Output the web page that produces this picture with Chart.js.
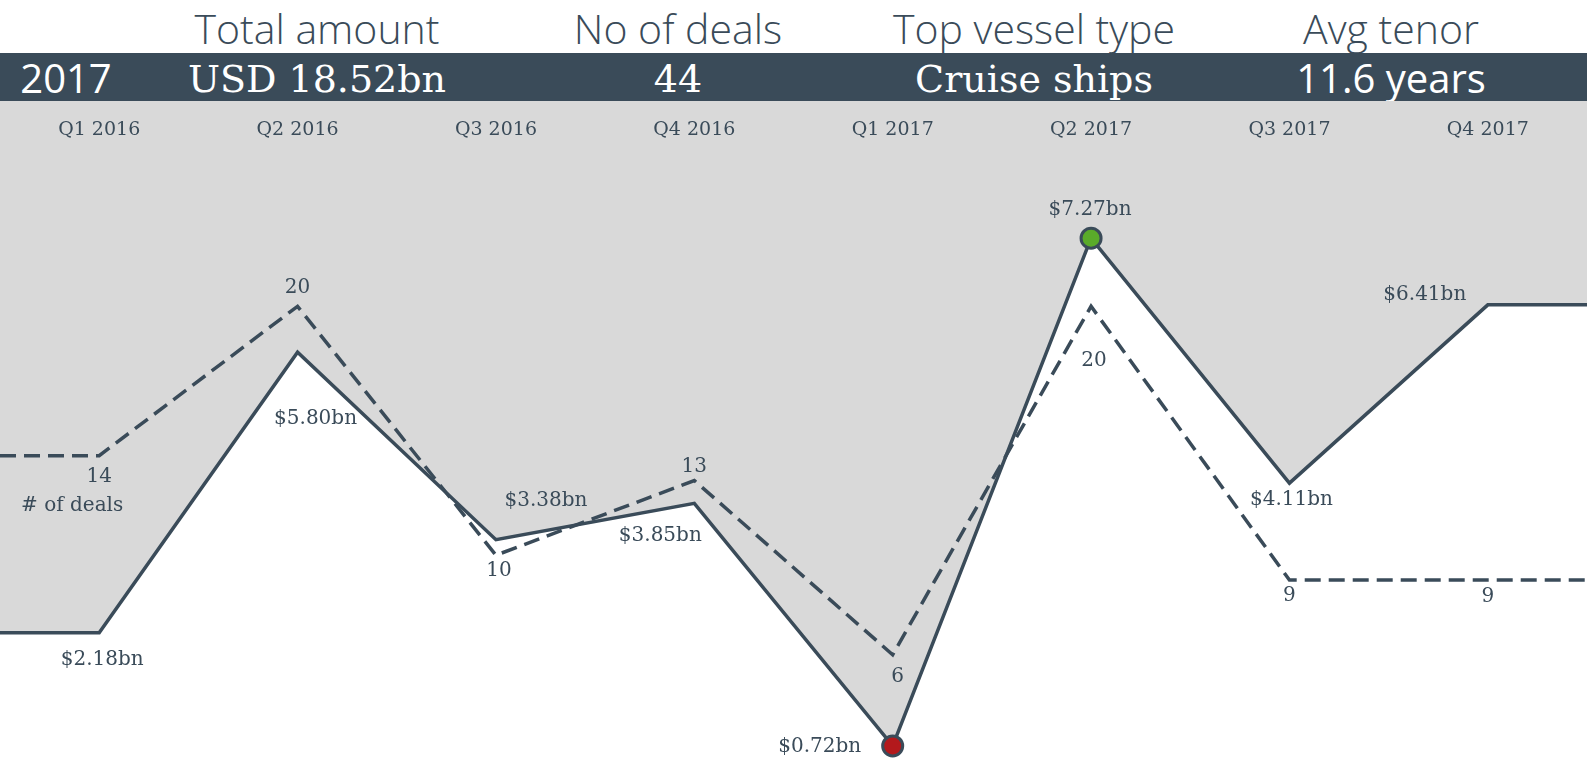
<!DOCTYPE html>
<html>
<head>
<meta charset="utf-8">
<script src="https://cdn.jsdelivr.net/npm/chart.js@4"></script>
<style>
  body { margin: 0; width: 1587px; height: 763px; overflow: hidden; background: #fff; }
  #heads, #band { position: absolute; left: 0; width: 1587px; }
  #heads { top: 0; height: 53px; }
  #band { top: 53px; height: 48px; background: #3a4b59; }
  .t { position: absolute; white-space: nowrap; transform: translateX(-50%); line-height: 1; }
  .head { color: #3a4b59; font: 300 41px "Open Sans", sans-serif; top: 0px; }
  .val { color: #fff; }
  .slab { font: 38px "DejaVu Serif", serif; top: 4px; }
  .sans { font: 40px "Open Sans", sans-serif; top: -3px; }
  #wrap { position: absolute; left: 0; top: 101px; width: 1587px; height: 662px; background: #d9d9d9; }
</style>
</head>
<body>
<div id="heads"></div>
<div id="band"></div>
<div id="wrap"><canvas id="c"></canvas></div>
<script>
// cabecera
const summaryYear = '2017';
const summaryTitles = ['Total amount', 'No of deals', 'Top vessel type', 'Avg tenor'];
const summaryValues = ['USD 18.52bn', '44', 'Cruise ships', '11.6 years'];

// serie trimestral
const quarters = ['Q1 2016', 'Q2 2016', 'Q3 2016', 'Q4 2016', 'Q1 2017', 'Q2 2017', 'Q3 2017', 'Q4 2017'];
const amountBn = [2.18, 5.80, 3.38, 3.85, 0.72, 7.27, 4.11, 6.41];
const dealCounts = [14, 20, 10, 13, 6, 20, 9, 9];
const dealsCaption = '# of deals';

const DARK = '#3a4b59';
const SLAB = '"DejaVu Serif", serif';

// posiciones de la cabecera
const colX = [317, 678, 1034, 1391];
const valueFont = ['slab', 'slab', 'slab', 'sans'];
const heads = document.getElementById('heads');
const band = document.getElementById('band');
summaryTitles.forEach((t, i) => {
  const d = document.createElement('div');
  d.className = 't head';
  d.style.left = colX[i] + 'px';
  d.textContent = t;
  heads.appendChild(d);
});
summaryValues.forEach((t, i) => {
  const d = document.createElement('div');
  d.className = 't val ' + valueFont[i];
  d.style.left = colX[i] + 'px';
  d.textContent = t;
  band.appendChild(d);
});
const yr = document.createElement('div');
yr.className = 't val sans';
yr.style.left = '66px';
yr.textContent = summaryYear;
band.appendChild(yr);

// la línea se prolonga plana hasta los bordes
function withEdges(vals) {
  const pts = vals.map((v, i) => ({ x: i, y: v }));
  return [{ x: -0.5, y: vals[0] }, ...pts, { x: vals.length - 0.5, y: vals[vals.length - 1] }];
}

const iMax = amountBn.indexOf(Math.max(...amountBn));
const iMin = amountBn.indexOf(Math.min(...amountBn));

// desplazamiento de etiquetas respecto al punto
const amountOffsets = [[3, 27], [18, 67], [50, -39], [-34, 32], [-73, 1], [-1, -28], [2, 17], [-63, -10]];
const dealOffsets = [[0, 21], [0, -19], [3, 16], [0, -14], [5, 22], [3, 54], [0, 16], [0, 17]];

const pointLabels = {
  id: 'pointLabels',
  afterDatasetsDraw(chart) {
    const ctx = chart.ctx;
    ctx.save();
    ctx.fillStyle = DARK;
    ctx.textAlign = 'center';
    ctx.textBaseline = 'middle';
    ctx.font = '20px ' + SLAB;
    const mA = chart.getDatasetMeta(0).data;
    const mD = chart.getDatasetMeta(1).data;
    amountBn.forEach((v, i) => {
      const p = mA[i + 1];
      ctx.fillText('$' + v.toFixed(2) + 'bn', p.x + amountOffsets[i][0], p.y + amountOffsets[i][1]);
    });
    dealCounts.forEach((v, i) => {
      const p = mD[i + 1];
      ctx.fillText(String(v), p.x + dealOffsets[i][0], p.y + dealOffsets[i][1]);
    });
    ctx.fillText(dealsCaption, mD[1].x - 27, mD[1].y + 50);
    ctx.restore();
  }
};

new Chart(document.getElementById('c'), {
  type: 'line',
  data: {
    datasets: [
      {
        label: 'Amount',
        data: withEdges(amountBn),
        yAxisID: 'y',
        borderColor: DARK,
        borderWidth: 3.5,
        backgroundColor: '#ffffff',
        fill: 'start',
        tension: 0,
        pointRadius: c => (c.dataIndex - 1 === iMax || c.dataIndex - 1 === iMin) ? 10 : 0,
        pointHoverRadius: 0,
        pointBackgroundColor: c => c.dataIndex - 1 === iMax ? '#5aab2a' : '#b3191c',
        pointBorderColor: DARK,
        pointBorderWidth: 3
      },
      {
        label: 'Deals',
        data: withEdges(dealCounts),
        yAxisID: 'y1',
        borderColor: DARK,
        borderWidth: 3.5,
        borderDash: [16, 8],
        fill: false,
        tension: 0,
        pointRadius: 0
      }
    ]
  },
  options: {
    responsive: true,
    maintainAspectRatio: false,
    animation: false,
    layout: { padding: 0 },
    events: [],
    plugins: {
      legend: { display: false },
      tooltip: { enabled: false },
      filler: { drawTime: 'beforeDatasetsDraw' }
    },
    scales: {
      x: {
        type: 'linear',
        position: 'top',
        min: -0.5,
        max: quarters.length - 0.5,
        afterBuildTicks: s => { s.ticks = quarters.map((q, i) => ({ value: i })); },
        afterFit: s => { s.height = 55; },
        grid: { display: false },
        border: { display: false },
        ticks: {
          autoSkip: false,
          maxRotation: 0,
          padding: 7,
          color: DARK,
          font: { family: SLAB, size: 19 },
          callback: v => quarters[v]
        }
      },
      y: { display: false, min: 0.5, max: 8.33 },
      y1: { display: false, min: 1.65, max: 26.04 }
    }
  },
  plugins: [pointLabels]
});
</script>
</body>
</html>
